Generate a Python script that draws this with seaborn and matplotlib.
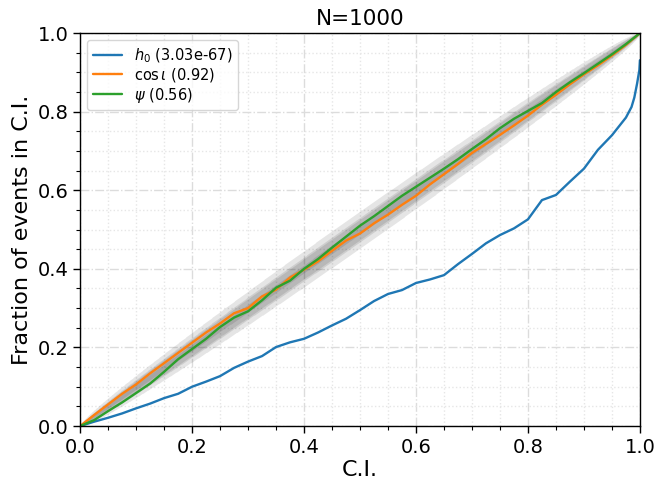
import math
import numpy as np
import pandas as pd
import matplotlib
matplotlib.use("Agg")
import matplotlib.pyplot as plt
import seaborn as sns
from matplotlib.ticker import MultipleLocator

# ---- data ----
n_events = 1000
title = "N=1000"
ci_levels = [0.5, 0.9, 0.95, 0.997]

x_grid = [0, 0.025, 0.05, 0.075, 0.1, 0.125, 0.15, 0.175, 0.2, 0.225, 0.25, 0.275,
          0.3, 0.325, 0.35, 0.375, 0.4, 0.425, 0.45, 0.475, 0.5, 0.525, 0.55, 0.575,
          0.6, 0.625, 0.65, 0.675, 0.7, 0.725, 0.75, 0.775, 0.8, 0.825, 0.85, 0.875,
          0.9, 0.925, 0.95, 0.975, 1.0]

h0_x = x_grid[:-1] + [0.985, 0.99, 0.995, 0.999, 1.0]
h0_y = [0, 0.011, 0.021, 0.032, 0.045, 0.057, 0.071, 0.082, 0.100, 0.113, 0.127, 0.148,
        0.164, 0.178, 0.201, 0.213, 0.222, 0.238, 0.256, 0.273, 0.295, 0.318, 0.336, 0.346,
        0.364, 0.373, 0.384, 0.412, 0.438, 0.465, 0.486, 0.503, 0.526, 0.575, 0.588, 0.622,
        0.655, 0.703, 0.740, 0.785, 0.812, 0.836, 0.872, 0.906, 0.931]

cosi_y = [0, 0.028, 0.055, 0.082, 0.106, 0.134, 0.160, 0.186, 0.212, 0.238, 0.261, 0.287,
          0.300, 0.330, 0.347, 0.378, 0.398, 0.419, 0.446, 0.472, 0.490, 0.516, 0.538, 0.563,
          0.586, 0.615, 0.641, 0.667, 0.695, 0.718, 0.741, 0.765, 0.790, 0.818, 0.843, 0.870,
          0.895, 0.918, 0.943, 0.970, 1.0]

psi_y = [0, 0.015, 0.038, 0.060, 0.084, 0.108, 0.138, 0.170, 0.196, 0.222, 0.252, 0.276,
         0.292, 0.320, 0.352, 0.370, 0.400, 0.425, 0.454, 0.482, 0.510, 0.534, 0.560, 0.586,
         0.609, 0.632, 0.655, 0.679, 0.705, 0.730, 0.758, 0.782, 0.802, 0.822, 0.850, 0.875,
         0.898, 0.922, 0.946, 0.972, 1.0]

labels = [r"$h_0$ (3.03e-67)", r"$\cos\iota$ (0.92)", r"$\psi$ (0.56)"]

df = pd.concat([
    pd.DataFrame({"x": h0_x, "y": h0_y, "param": labels[0]}),
    pd.DataFrame({"x": x_grid, "y": cosi_y, "param": labels[1]}),
    pd.DataFrame({"x": x_grid, "y": psi_y, "param": labels[2]}),
], ignore_index=True)

# ---- binomial confidence bands ----
def binom_ppf(q, n, p):
    k = np.arange(n + 1)
    logc = np.array([math.lgamma(n + 1) - math.lgamma(i + 1) - math.lgamma(n - i + 1) for i in k])
    out = np.empty_like(p)
    for j, pj in enumerate(p):
        if pj <= 0:
            out[j] = 0
            continue
        if pj >= 1:
            out[j] = n
            continue
        lp = logc + k * math.log(pj) + (n - k) * math.log(1 - pj)
        pmf = np.exp(lp - lp.max())
        cdf = np.cumsum(pmf) / pmf.sum()
        out[j] = np.searchsorted(cdf, q - 1e-12)
    return out

sns.set_style("white")
plt.rcParams.update({"text.color": "black", "axes.labelcolor": "black",
                     "xtick.color": "black", "ytick.color": "black"})
fig = plt.figure(figsize=(6.57, 4.8), dpi=100)
ax = fig.add_axes([0.122, 0.1125, 0.852, 0.8185])

xv = np.linspace(0, 1, 1001)
for ci in ci_levels:
    edge = (1 - ci) / 2
    lower = binom_ppf(1 - edge, n_events, xv) / n_events
    upper = binom_ppf(edge, n_events, xv) / n_events
    lower[0] = 0
    upper[0] = 0
    ax.fill_between(xv, lower, upper, alpha=0.1, color="k", lw=0)

sns.lineplot(data=df, x="x", y="y", hue="param", palette=sns.color_palette("tab10", 3),
             ax=ax, lw=1.7, estimator=None, sort=False)

ax.set_xlim(0, 1)
ax.set_ylim(0, 1)
ax.xaxis.set_major_locator(MultipleLocator(0.2))
ax.yaxis.set_major_locator(MultipleLocator(0.2))
ax.xaxis.set_minor_locator(MultipleLocator(0.05))
ax.yaxis.set_minor_locator(MultipleLocator(0.05))
ax.grid(which="major", ls="-.", color="#dcdcdc", lw=1.0)
ax.grid(which="minor", ls=":", color="#e6e6e6", lw=1.0)
ax.set_axisbelow(True)
ax.tick_params(which="major", direction="out", length=5, width=1, labelsize=14,
               bottom=True, left=True)
ax.tick_params(which="minor", direction="out", length=3, width=0.8, bottom=True, left=True)
for s in ax.spines.values():
    s.set_color("black")
    s.set_linewidth(1.0)

ax.set_xlabel("C.I.", fontsize=16, labelpad=2)
ax.set_ylabel("Fraction of events in C.I.", fontsize=16)
ax.set_title(title, fontsize=15.5)
leg = ax.legend(loc="upper left", fontsize=10.5, title=None, frameon=True,
                labelspacing=0.1)
leg.get_frame().set_edgecolor("#cccccc")

fig.savefig("out.png", dpi=100)
